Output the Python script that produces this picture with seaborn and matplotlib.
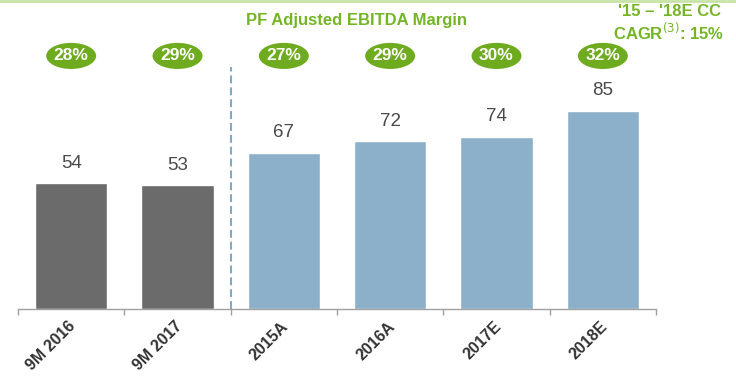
import matplotlib
matplotlib.use("Agg")
import matplotlib.pyplot as plt
from matplotlib.patches import Ellipse
from matplotlib.lines import Line2D
from matplotlib.transforms import ScaledTranslation
from matplotlib import font_manager
import seaborn as sns
import pandas as pd

# Data
categories = ["9M 2016", "9M 2017", "2015A", "2016A", "2017E", "2018E"]
ebitda = [54, 53, 67, 72, 74, 85]
margins = ["28%", "29%", "27%", "29%", "30%", "32%"]
bar_colors = ["#6b6b6b", "#6b6b6b", "#8cb0c9", "#8cb0c9", "#8cb0c9", "#8cb0c9"]

title_text = "PF Adjusted EBITDA Margin"
cagr_text = "'15 \u2013 '18E CC\nCAGR$^{(3)}$: 15%"

sns.set_theme(style="white")
plt.rcParams["font.family"] = ["Liberation Sans", "DejaVu Sans"]

installed = {f.name for f in font_manager.fontManager.ttflist}
narrow = "Liberation Sans Narrow" if "Liberation Sans Narrow" in installed else "Liberation Sans"

GREEN = "#6eab1e"
TEXT_GREEN = "#74b526"

df = pd.DataFrame({"period": categories, "value": ebitda})

fig = plt.figure(figsize=(7.36, 3.77), dpi=100)
ax = fig.add_axes([18 / 736, 68 / 377, 638 / 736, 309 / 377])

sns.barplot(data=df, x="period", y="value", hue="period", palette=bar_colors,
            legend=False, width=0.68, saturation=1, ax=ax)

ax.set_xlim(-0.5, len(categories) - 0.5)
ax.set_ylim(0, 132.6)
ax.set_xlabel("")
ax.set_ylabel("")
ax.set_yticks([])

for s in ["top", "right", "left"]:
    ax.spines[s].set_visible(False)
ax.spines["bottom"].set_color("#a0a0a0")
ax.spines["bottom"].set_linewidth(1.0)

# tick marks at category boundaries, labels at category centres
ax.set_xticks([i - 0.5 for i in range(len(categories) + 1)], minor=True)
ax.tick_params(axis="x", which="minor", bottom=True, length=4, width=1, color="#a0a0a0", direction="out")
ax.set_xticks(range(len(categories)))
ax.set_xticklabels(categories, rotation=45, ha="right", rotation_mode="anchor",
                   fontsize=11.5, fontweight="bold", color="#333333")
ax.tick_params(axis="x", which="major", length=0, pad=7)
shift = ScaledTranslation(-0.03, 0, fig.dpi_scale_trans)
for lbl in ax.get_xticklabels():
    lbl.set_transform(lbl.get_transform() + shift)

# value labels above bars
for i, v in enumerate(ebitda):
    ax.text(i, v + 5, f"{v}", ha="center", va="bottom", fontsize=13.5, color="#4a4a4a")

# separator between nine-month and full-year figures
ax.plot([1.5, 1.5], [0, 104], color="#7eaacb", lw=1.5, linestyle=(0, (3.8, 1.9)))

# margin badges
for i, m in enumerate(margins):
    ax.add_patch(Ellipse((i, 108.6), 0.47, 11.2, facecolor=GREEN, edgecolor="none", clip_on=False))
    ax.text(i, 108.6, m, ha="center", va="center", fontsize=12.5, fontweight="bold",
            color="white", family=[narrow, "DejaVu Sans"])

fig.text(357 / 736, 1 - 20 / 377, title_text, ha="center", va="center",
         fontsize=12, fontweight="bold", color=TEXT_GREEN)
fig.text(669 / 736, 1 - 23 / 377, cagr_text, ha="center", va="center",
         fontsize=12, fontweight="bold", color=TEXT_GREEN, linespacing=1.15)

fig.add_artist(Line2D([0, 1], [1 - 1 / 377, 1 - 1 / 377], transform=fig.transFigure,
                      color="#c8e3a6", lw=2))

fig.savefig("out.png", dpi=100)
